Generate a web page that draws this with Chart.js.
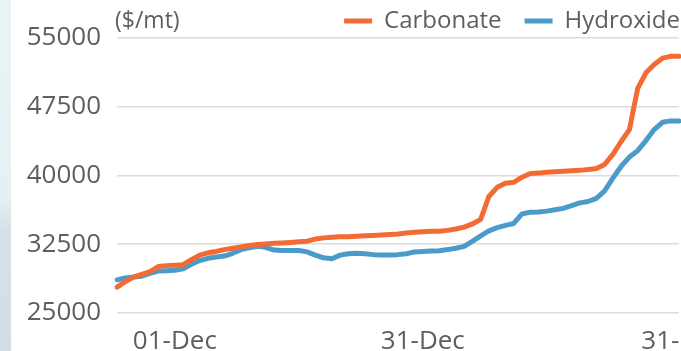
<!DOCTYPE html>
<html>
<head>
<meta charset="utf-8">
<script src="https://cdn.jsdelivr.net/npm/chart.js@4.4.1/dist/chart.umd.min.js"></script>
<style>
  html, body { margin: 0; padding: 0; background: #fff; overflow: hidden; }
  body { width: 681px; height: 351px; position: relative; }
  .strip {
    position: absolute; left: 0; top: 0; width: 11px; height: 351px;
    background: linear-gradient(to bottom, #eaf3f6 0px, #e6eff3 200px, #d6e0e6 230px, #d3dde3 351px);
  }
  .wrap { position: absolute; left: 0; top: 0; width: 703px; height: 370px; }
</style>
</head>
<body>
<div class="strip"></div>
<div class="wrap"><canvas id="lineChart"></canvas></div>
<script>
  'use strict';

  // daily points, 24-Nov through 31-Jan
  const startDate = new Date(2021, 10, 24);
  const dayCount = 69;
  const months = ['Jan', 'Feb', 'Mar', 'Apr', 'May', 'Jun', 'Jul', 'Aug', 'Sep', 'Oct', 'Nov', 'Dec'];
  const dates = [];
  for (let i = 0; i < dayCount; i++) {
    const d = new Date(startDate.getFullYear(), startDate.getMonth(), startDate.getDate() + i);
    dates.push(String(d.getDate()).padStart(2, '0') + '-' + months[d.getMonth()]);
  }

  const tickLabels = ['01-Dec', '31-Dec', '31-Jan'];
  const yTicks = [25000, 32500, 40000, 47500, 55000];

  const carbonate = [
    27800, 28400, 28900, 29200, 29500, 30050, 30150, 30200, 30250, 30800,
    31300, 31550, 31700, 31900, 32050, 32200, 32350, 32450, 32520, 32580,
    32620, 32680, 32750, 32820, 33050, 33180, 33250, 33300, 33300, 33350,
    33400, 33450, 33500, 33550, 33600, 33700, 33800, 33850, 33900, 33900,
    34000, 34150, 34350, 34700, 35200, 37700, 38700, 39150, 39250, 39800,
    40200, 40250, 40350, 40400, 40450, 40500, 40550, 40650, 40750, 41200,
    42300, 43700, 45000, 49500, 51200, 52100, 52800, 53000, 53000
  ];
  const hydroxide = [
    28600, 28800, 28900, 29000, 29300, 29550, 29600, 29650, 29800, 30300,
    30700, 30950, 31100, 31200, 31500, 31900, 32100, 32250, 32150, 31850,
    31800, 31800, 31800, 31650, 31300, 31000, 30900, 31300, 31450, 31500,
    31450, 31350, 31320, 31320, 31350, 31450, 31650, 31700, 31750, 31780,
    31900, 32050, 32250, 32800, 33400, 33950, 34300, 34550, 34750, 35800,
    35980, 36000, 36100, 36250, 36400, 36700, 37000, 37150, 37500, 38300,
    39700, 41000, 42000, 42700, 43800, 45000, 45800, 45950, 45950
  ];

  const orange = '#f36b33';
  const blue = '#4b9bc8';
  const textColor = '#5e5e5e';
  const fontFamily = '"Open Sans", Roboto, sans-serif';

  Chart.defaults.font.family = fontFamily;
  Chart.defaults.color = textColor;

  // legend needs wide gaps between items but a short box
  const legendFit = {
    id: 'legendFit',
    beforeLayout(chart) {
      const lg = chart.legend;
      if (lg && !lg._fitPatched) {
        const orig = lg.fit;
        lg.fit = function () {
          orig.call(this);
          this.height = 52;
        };
        lg._fitPatched = true;
      }
    }
  };

  // unit label above the plot
  const unitLabel = {
    id: 'unitLabel',
    afterDraw(chart) {
      const c = chart.ctx;
      c.save();
      c.font = '23px ' + fontFamily;
      c.fillStyle = textColor;
      c.textAlign = 'left';
      c.textBaseline = 'middle';
      c.fillText('($/mt)', chart.chartArea.left - 2, 21);
      c.restore();
    }
  };

  const ctx = document.getElementById('lineChart').getContext('2d');
  const lineChart = new Chart(ctx, {
    type: 'line',
    data: {
      labels: dates,
      datasets: [{
        label: 'Carbonate',
        data: carbonate,
        borderColor: orange,
        backgroundColor: orange,
        borderWidth: 5,
        pointRadius: 0,
        tension: 0,
        borderJoinStyle: 'round',
        borderCapStyle: 'round'
      }, {
        label: 'Hydroxide',
        data: hydroxide,
        borderColor: blue,
        backgroundColor: blue,
        borderWidth: 5,
        pointRadius: 0,
        tension: 0,
        borderJoinStyle: 'round',
        borderCapStyle: 'round'
      }]
    },
    options: {
      responsive: true,
      maintainAspectRatio: false,
      animation: false,
      layout: { padding: { top: -14, left: 12, right: 0, bottom: 0 } },
      plugins: {
        tooltip: { enabled: false },
        legend: {
          position: 'top',
          align: 'end',
          labels: {
            usePointStyle: true,
            pointStyle: 'line',
            pointStyleWidth: 28,
            padding: 23,
            color: textColor,
            font: { size: 24 }
          }
        }
      },
      scales: {
        x: {
          grid: { display: false, drawTicks: false },
          border: { display: false },
          ticks: {
            autoSkip: false,
            maxRotation: 0,
            padding: 13,
            font: { size: 26 },
            callback: function (value) {
              const lbl = this.getLabelForValue(value);
              return tickLabels.includes(lbl) ? lbl : null;
            }
          },
          afterFit(scale) {
            scale.paddingLeft = 0;
            scale.paddingRight = 24;
          }
        },
        y: {
          min: 25000,
          max: 55000,
          afterBuildTicks(scale) {
            scale.ticks = yTicks.map(v => ({ value: v }));
          },
          grid: { color: '#dcdcdc', lineWidth: 1.5, drawTicks: false },
          border: { display: false },
          ticks: {
            padding: 16,
            font: { size: 26 },
            callback: value => String(value)
          },
          afterFit(scale) {
            scale.width = 105;
          }
        }
      }
    },
    plugins: [legendFit, unitLabel]
  });
</script>
</body>
</html>
